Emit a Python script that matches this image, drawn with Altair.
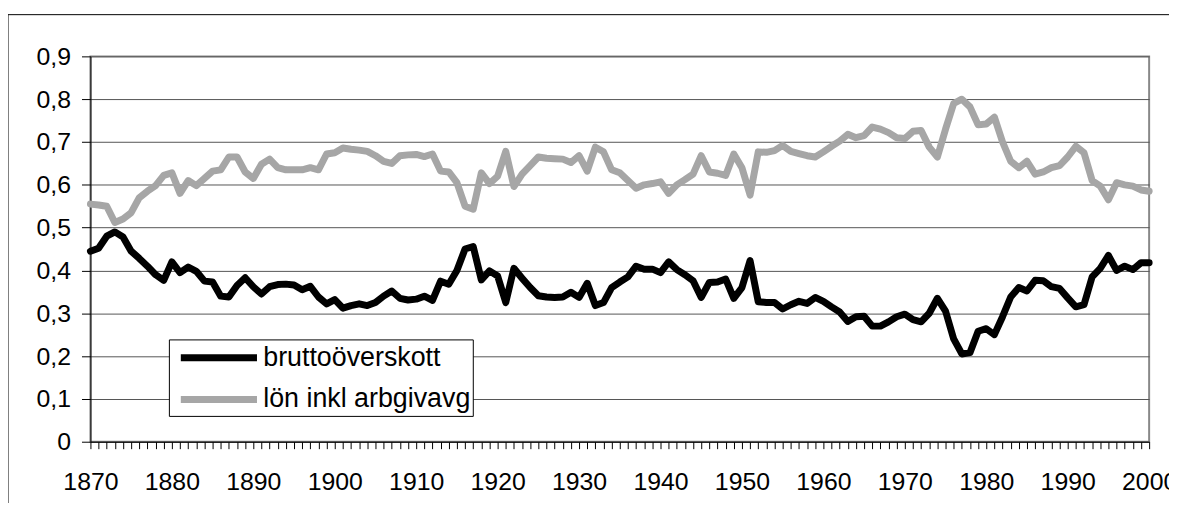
import altair as alt
import pandas as pd

years = list(range(1870, 2001))

brutto = [
    0.445, 0.452, 0.48, 0.49, 0.478, 0.445, 0.428, 0.41, 0.39, 0.377,
    0.42, 0.395, 0.408, 0.398, 0.375, 0.373, 0.34, 0.338, 0.365, 0.383,
    0.362, 0.345, 0.362, 0.367, 0.368, 0.366, 0.355, 0.363, 0.338, 0.322,
    0.332, 0.312, 0.318, 0.322, 0.318, 0.325, 0.34, 0.352, 0.335, 0.331,
    0.333, 0.34, 0.33, 0.375, 0.368, 0.4, 0.45, 0.456, 0.378, 0.399,
    0.387, 0.325, 0.405, 0.382, 0.36, 0.341, 0.338, 0.337, 0.338, 0.349,
    0.337, 0.37, 0.318, 0.325, 0.36, 0.373, 0.385, 0.41, 0.403, 0.403,
    0.395, 0.42, 0.402, 0.39, 0.376, 0.337, 0.372, 0.373, 0.38, 0.335,
    0.36, 0.423, 0.327, 0.325, 0.325, 0.31, 0.32, 0.328, 0.323, 0.337,
    0.328, 0.315, 0.303, 0.281, 0.292, 0.293, 0.27, 0.27, 0.28, 0.292,
    0.298, 0.285, 0.28, 0.3, 0.335, 0.305, 0.24, 0.205, 0.208, 0.258,
    0.264, 0.25, 0.292, 0.338, 0.36, 0.352, 0.377, 0.376, 0.362, 0.358,
    0.336, 0.315, 0.32, 0.385, 0.405, 0.435, 0.4, 0.41, 0.402, 0.418,
    0.418,
]

lon = [
    0.555, 0.553, 0.55, 0.512, 0.52, 0.535, 0.57, 0.585, 0.598, 0.622,
    0.628, 0.58, 0.61, 0.598, 0.615, 0.632, 0.635, 0.665, 0.665, 0.63,
    0.615, 0.648, 0.66, 0.64, 0.635, 0.635, 0.635, 0.64, 0.635, 0.672,
    0.675,
    0.686, 0.683, 0.681, 0.678, 0.668, 0.655, 0.65, 0.668, 0.67, 0.671,
    0.666, 0.672, 0.632, 0.63, 0.605, 0.55, 0.543, 0.628, 0.603, 0.62,
    0.678, 0.596, 0.625, 0.645, 0.665, 0.662, 0.661, 0.66, 0.652, 0.668,
    0.632, 0.688, 0.677, 0.635,
    0.628, 0.61, 0.592, 0.6, 0.603, 0.607, 0.58, 0.6, 0.612, 0.625,
    0.668, 0.63, 0.627, 0.622, 0.672, 0.64, 0.576, 0.677, 0.676, 0.68,
    0.692, 0.678, 0.673, 0.668, 0.665, 0.677, 0.69, 0.702, 0.718, 0.71,
    0.715, 0.735,
    0.73, 0.722, 0.71, 0.708, 0.725, 0.727, 0.688, 0.665, 0.73, 0.79,
    0.8, 0.782, 0.74, 0.742, 0.758, 0.7, 0.655, 0.64, 0.655, 0.625,
    0.63, 0.64, 0.645, 0.665, 0.69, 0.675, 0.61, 0.597, 0.565, 0.605,
    0.6, 0.597, 0.588, 0.585,
]

series_names = ["bruttoöverskott", "lön inkl arbgivavg"]
series_colors = ["#000000", "#a6a6a6"]
y_ticks = [0, 0.1, 0.2, 0.3, 0.4, 0.5, 0.6, 0.7, 0.8, 0.9]

rows = []
for name, vals in zip(series_names, [brutto, lon]):
    for yr, v in zip(years, vals):
        rows.append({"year": yr, "value": v, "serie": name})
df = pd.DataFrame(rows)

FONT = "Liberation Sans"
W, H = 1066, 388

lines = alt.Chart(df).mark_line(strokeWidth=7, strokeJoin="round", strokeCap="round").encode(
    x=alt.X(
        "year:Q",
        scale=alt.Scale(domain=[1870, 2000], nice=False, zero=False),
        axis=alt.Axis(
            title=None,
            values=years,
            labelExpr="datum.value % 10 == 0 ? datum.value : ''",
            format="d",
            labelOverlap=False,
            grid=False,
            tickSize=7,
            tickColor="black",
            domainColor="black",
            labelFontSize=25,
            labelFont=FONT,
            labelColor="black",
            labelPadding=21,
            labelFlush=False,
        ),
    ),
    y=alt.Y(
        "value:Q",
        scale=alt.Scale(domain=[0, 0.9], nice=False),
        axis=alt.Axis(
            title=None,
            values=y_ticks,
            labelExpr="datum.value == 0 ? '0' : replace(format(datum.value, '.1f'), '.', ',')",
            grid=True,
            gridColor="#555555",
            gridWidth=1,
            tickSize=9,
            tickColor="black",
            domainColor="black",
            labelFontSize=25,
            labelFont=FONT,
            labelColor="black",
            labelPadding=11,
            labelFlush=False,
        ),
    ),
    color=alt.Color(
        "serie:N",
        scale=alt.Scale(domain=series_names, range=series_colors),
        legend=alt.Legend(
            title=None,
            orient="none",
            legendX=79,
            legendY=285,
            symbolType="M-0.5,0H5.4",
            symbolSize=676,
            symbolStrokeWidth=7,
            labelFontSize=27,
            labelFont=FONT,
            labelColor="black",
            labelOffset=60,
            labelLimit=500,
            strokeColor="black",
            fillColor="white",
            padding=2,
            rowPadding=11,
        ),
    ),
    order=alt.Order("year:Q"),
)

frame = alt.Chart(pd.DataFrame({"k": [0]})).mark_rect(
    fillOpacity=0, stroke="black", strokeWidth=1
).encode(
    x=alt.value(-83), x2=alt.value(W + 200), y=alt.value(-42), y2=alt.value(H + 200)
)

chart = alt.layer(frame, lines).properties(
    width=W,
    height=H,
    autosize=alt.AutoSizeParams(type="none"),
    padding={"left": 83, "top": 47, "right": 20, "bottom": 60},
    background="white",
).configure_view(stroke="#888888", strokeWidth=2)

chart.save("out.html", embed_options={"renderer": "svg", "actions": False})
